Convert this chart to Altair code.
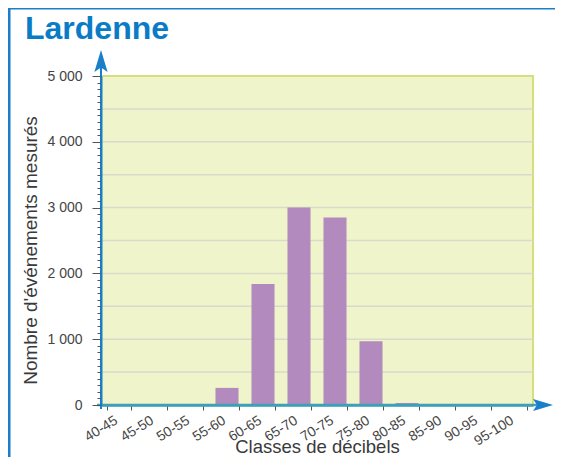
import altair as alt
import pandas as pd

classes = ["40-45", "45-50", "50-55", "55-60", "60-65", "65-70",
           "70-75", "75-80", "80-85", "85-90", "90-95", "95-100"]
counts = [0, 0, 0, 260, 1840, 3000, 2850, 970, 30, 0, 0, 0]
grid_values = [500, 1000, 1500, 2000, 2500, 3000, 3500, 4000, 4500]
y_ticks = list(range(0, 5001, 100))

df = pd.DataFrame({"classe": classes, "n": counts})
grid_df = pd.DataFrame({"n": grid_values})
one = alt.Data(values=[{}])

FONT = "Liberation Sans"
W, H = 432, 329
BLUE = "#1a7ec8"
TEAL = "#3f9fb8"

yscale = alt.Scale(domain=[0, 5000], nice=False)
y_axis = alt.Axis(title="Nombre d'événements mesurés", values=y_ticks,
                  labelExpr="datum.value % 1000 === 0 ? replace(format(datum.value, ','), ',', ' ') : ''",
                  labelOverlap=False, labelFlush=False,
                  labelFontSize=14, labelColor="#444", labelFont=FONT,
                  labelPadding=10,
                  tickSize={"condition": {"test": "datum.value % 1000 === 0", "value": 9}, "value": 4},
                  tickColor="#555", tickWidth=1,
                  domainColor=BLUE, domainWidth=2,
                  titleFont=FONT, titleFontSize=19, titleFontWeight="normal",
                  titleColor="#3a3a3a", titleX=-65, titleY=174,
                  titleBaseline="alphabetic", titleAngle=-90,
                  zindex=1, grid=False)

grid = alt.Chart(grid_df).mark_rule(color="#d9dacb", strokeWidth=1.5).encode(
    y=alt.Y("n:Q", scale=yscale, axis=y_axis)
)

bars = alt.Chart(df).mark_bar(color="#b28abe").encode(
    x=alt.X("classe:N", sort=classes,
            scale=alt.Scale(paddingInner=0.36, paddingOuter=0.18),
            axis=alt.Axis(title="Classes de décibels", tickBand="extent",
                          labelAngle=-32, labelAlign="right", labelBaseline="middle",
                          labelFontSize=14, labelColor="#444", labelFont=FONT,
                          labelPadding=9, labelOffset=-3, tickSize=5, tickColor="#555",
                          domainColor=TEAL, domainWidth=2.5,
                          titleFont=FONT, titleFontSize=18.5, titleFontWeight="normal",
                          titleColor="#3a3a3a", titleY=47.5, titleBaseline="alphabetic",
                          zindex=1, grid=False)),
    y=alt.Y("n:Q", scale=yscale, axis=y_axis),
)

frame_top = alt.Chart(one).mark_rule(color=BLUE, strokeWidth=3).encode(
    x=alt.value(-92), x2=alt.value(470), y=alt.value(-68))
frame_left = alt.Chart(one).mark_rule(color=BLUE, strokeWidth=3).encode(
    x=alt.value(-92), y=alt.value(-68), y2=alt.value(400))

y_ext = alt.Chart(one).mark_rule(color=BLUE, strokeWidth=2).encode(
    x=alt.value(0), y=alt.value(-20), y2=alt.value(H + 4))
x_ext = alt.Chart(one).mark_rule(color=TEAL, strokeWidth=2.5).encode(
    x=alt.value(-4), x2=alt.value(438), y=alt.value(H))

up_arrow = alt.Chart(one).mark_point(
    shape="M0,-1L0.6,1L0,0.6L-0.6,1Z", filled=True, size=484,
    color=BLUE, opacity=1, strokeWidth=0).encode(x=alt.value(0), y=alt.value(-15))
right_arrow = alt.Chart(one).mark_point(
    shape="M1,0L-1,0.6L-0.6,0L-1,-0.6Z", filled=True, size=400,
    color=BLUE, opacity=1, strokeWidth=0).encode(x=alt.value(442), y=alt.value(H))

title = alt.Chart(one).mark_text(
    text="Lardenne", fontSize=32, fontWeight="bold", color="#0a7cc6",
    align="left", baseline="alphabetic", font=FONT).encode(
    x=alt.value(-76), y=alt.value(-37))

chart = alt.layer(grid, bars, frame_top, frame_left, x_ext, y_ext,
                  up_arrow, right_arrow, title).properties(
    width=W, height=H,
    autosize=alt.AutoSizeParams(type="none"),
    padding={"left": 93, "top": 68, "right": 22, "bottom": 52},
).configure_view(fill="#eff4cb", stroke="#d6e07a", strokeWidth=2)

chart.save("out.html", embed_options={"renderer": "svg", "actions": False})
